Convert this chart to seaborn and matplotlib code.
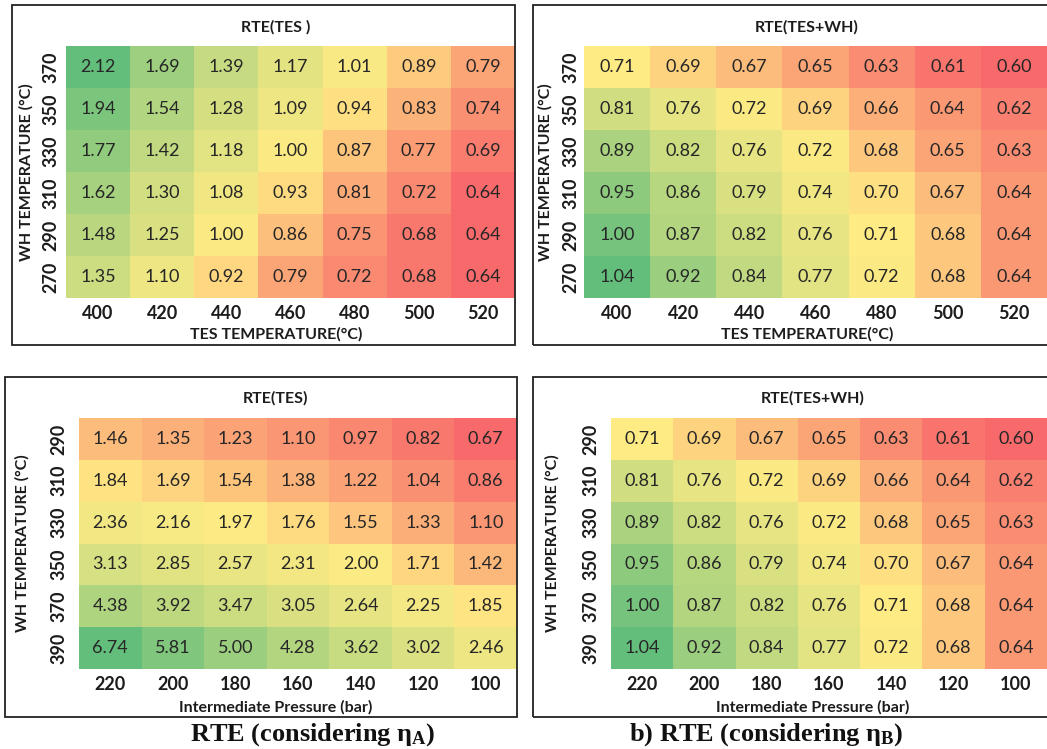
import numpy as np
import pandas as pd
import seaborn as sns
import matplotlib
matplotlib.use("Agg")
import matplotlib.pyplot as plt
from matplotlib.colors import LinearSegmentedColormap, TwoSlopeNorm
from matplotlib.patches import Rectangle

# ---- data -------------------------------------------------------------
tes_temp = [400, 420, 440, 460, 480, 500, 520]
wh_temp_top = [370, 350, 330, 310, 290, 270]
pressure = [220, 200, 180, 160, 140, 120, 100]
wh_temp_bottom = [290, 310, 330, 350, 370, 390]

rte_tes_a = [
    [2.12, 1.69, 1.39, 1.17, 1.01, 0.89, 0.79],
    [1.94, 1.54, 1.28, 1.09, 0.94, 0.83, 0.74],
    [1.77, 1.42, 1.18, 1.00, 0.87, 0.77, 0.69],
    [1.62, 1.30, 1.08, 0.93, 0.81, 0.72, 0.64],
    [1.48, 1.25, 1.00, 0.86, 0.75, 0.68, 0.64],
    [1.35, 1.10, 0.92, 0.79, 0.72, 0.68, 0.64],
]
rte_tes_wh_a = [
    [0.71, 0.69, 0.67, 0.65, 0.63, 0.61, 0.60],
    [0.81, 0.76, 0.72, 0.69, 0.66, 0.64, 0.62],
    [0.89, 0.82, 0.76, 0.72, 0.68, 0.65, 0.63],
    [0.95, 0.86, 0.79, 0.74, 0.70, 0.67, 0.64],
    [1.00, 0.87, 0.82, 0.76, 0.71, 0.68, 0.64],
    [1.04, 0.92, 0.84, 0.77, 0.72, 0.68, 0.64],
]
rte_tes_b = [
    [1.46, 1.35, 1.23, 1.10, 0.97, 0.82, 0.67],
    [1.84, 1.69, 1.54, 1.38, 1.22, 1.04, 0.86],
    [2.36, 2.16, 1.97, 1.76, 1.55, 1.33, 1.10],
    [3.13, 2.85, 2.57, 2.31, 2.00, 1.71, 1.42],
    [4.38, 3.92, 3.47, 3.05, 2.64, 2.25, 1.85],
    [6.74, 5.81, 5.00, 4.28, 3.62, 3.02, 2.46],
]
rte_tes_wh_b = [
    [0.71, 0.69, 0.67, 0.65, 0.63, 0.61, 0.60],
    [0.81, 0.76, 0.72, 0.69, 0.66, 0.64, 0.62],
    [0.89, 0.82, 0.76, 0.72, 0.68, 0.65, 0.63],
    [0.95, 0.86, 0.79, 0.74, 0.70, 0.67, 0.64],
    [1.00, 0.87, 0.82, 0.76, 0.71, 0.68, 0.64],
    [1.04, 0.92, 0.84, 0.77, 0.72, 0.68, 0.64],
]

# ---- style ------------------------------------------------------------
sns.set_theme(style="white")
plt.rcParams["font.family"] = ["Lato", "DejaVu Sans"]

W, H = 1047, 749
fig = plt.figure(figsize=(W / 100, H / 100), dpi=100)
fig.patch.set_facecolor("white")

# red - yellow - green scale, midpoint at the median of each table
rdylgn = LinearSegmentedColormap.from_list(
    "ryg", ["#F8696B", "#FFEB84", "#63BE7B"])

TXT = "#262626"
LBL = "#1c1c1c"


def fx(x):
    return x / W


def fy(y):
    return 1 - y / H


def panel(values, rows, cols, box, heat, title, title_x, title_y,
          xlabel, xlabel_y, ylabel_x, ytick_pad, xtick_pad=5):
    # frame around the panel
    bx0, by0, bx1, by1 = box
    fig.patches.append(Rectangle((fx(bx0), fy(by1)), fx(bx1 - bx0),
                                 (by1 - by0) / H, transform=fig.transFigure,
                                 fill=False, edgecolor="#222222", lw=1.3,
                                 zorder=0))
    hx0, hy0, hx1, hy1 = heat
    ax = fig.add_axes([fx(hx0), fy(hy1), fx(hx1 - hx0), (hy1 - hy0) / H])
    df = pd.DataFrame(values, index=rows, columns=cols)
    arr = df.to_numpy()
    norm = TwoSlopeNorm(vmin=arr.min(), vcenter=float(np.median(arr)),
                        vmax=arr.max())
    sns.heatmap(df, ax=ax, cmap=rdylgn, norm=norm, cbar=False, annot=True,
                fmt=".2f", linewidths=0,
                annot_kws={"fontsize": 13, "color": TXT})
    ax.set_xlabel("")
    ax.set_ylabel("")
    ax.tick_params(axis="both", length=0)
    ax.tick_params(axis="x", pad=xtick_pad)
    ax.tick_params(axis="y", pad=ytick_pad)
    plt.setp(ax.get_xticklabels(), fontsize=13, fontweight="bold",
             color=LBL, rotation=0)
    plt.setp(ax.get_yticklabels(), fontsize=13, fontweight="bold",
             color=LBL, rotation=90, va="center")
    fig.text(fx(title_x), fy(title_y), title, ha="center", va="center",
             fontsize=11.5, fontweight="bold", color=LBL)
    fig.text(fx(title_x), fy(xlabel_y), xlabel, ha="center", va="center",
             fontsize=11.5, fontweight="bold", color=LBL)
    fig.text(fx(ylabel_x), fy((hy0 + hy1) / 2), "WH TEMPERATURE (°C)",
             ha="center", va="center", rotation=90, fontsize=11.5,
             fontweight="bold", color=LBL)
    return ax


panel(rte_tes_a, wh_temp_top, tes_temp, (12, 5, 515, 345),
      (66, 46, 515, 298), "RTE(TES )", 276, 27,
      "TES TEMPERATURE(°C)", 334, 26, 5)
panel(rte_tes_wh_a, wh_temp_top, tes_temp, (533, 5, 1052, 345),
      (584, 46, 1047, 298), "RTE(TES+WH)", 807, 27,
      "TES TEMPERATURE(°C)", 334, 545, 3.5)
panel(rte_tes_b, wh_temp_bottom, pressure, (5, 377, 517, 717),
      (79, 418, 517, 669), "RTE(TES)", 276, 398,
      "Intermediate Pressure (bar)", 707, 22, 8.5)
panel(rte_tes_wh_b, wh_temp_bottom, pressure, (533, 377, 1052, 717),
      (611, 418, 1047, 669), "RTE(TES+WH)", 813, 398,
      "Intermediate Pressure (bar)", 707, 552, 8.5)

# captions under the bottom row
cap_font = {"family": "Liberation Serif", "weight": "bold", "size": 19}
plt.rcParams["mathtext.fontset"] = "custom"
plt.rcParams["mathtext.rm"] = "Liberation Serif:bold"
plt.rcParams["mathtext.it"] = "Liberation Serif:bold"
plt.rcParams["mathtext.bf"] = "Liberation Serif:bold"
fig.text(fx(313), fy(735), r"RTE (considering η$_\mathregular{A}$)",
         ha="center", va="center", color="#111111", **cap_font)
fig.text(fx(766), fy(735), r"b) RTE (considering η$_\mathregular{B}$)",
         ha="center", va="center", color="#111111", **cap_font)

fig.savefig("out.png", dpi=100, facecolor="white")
